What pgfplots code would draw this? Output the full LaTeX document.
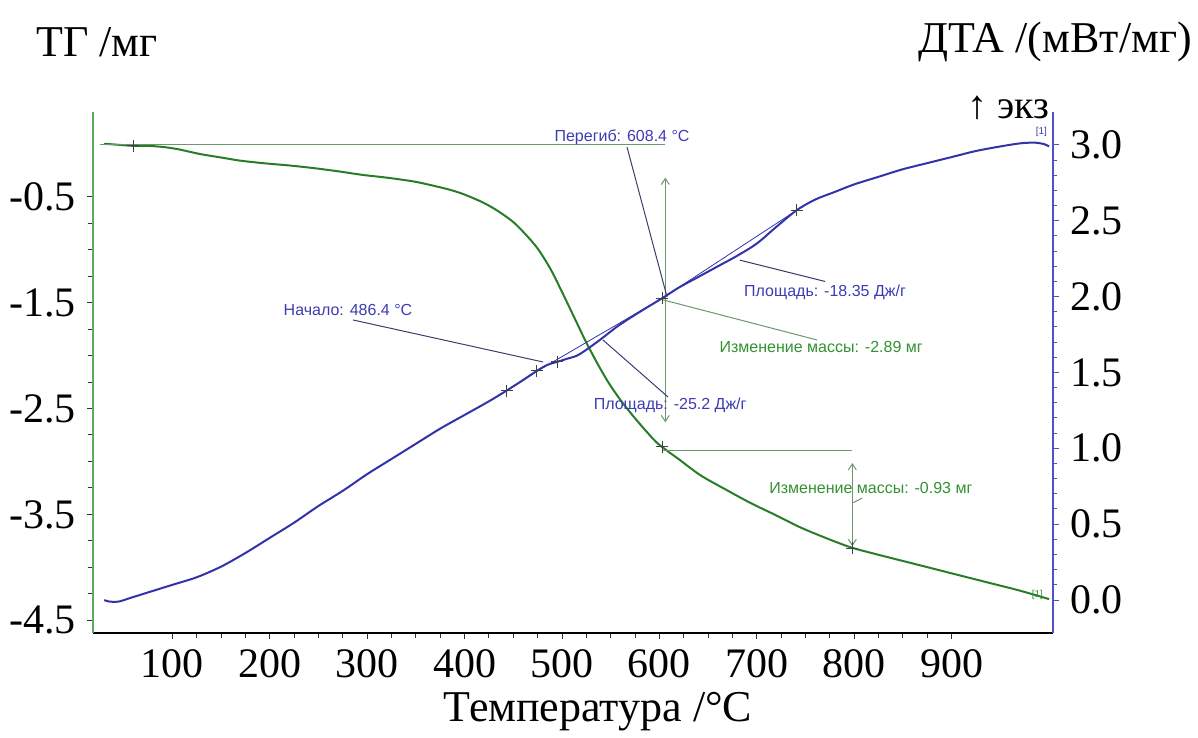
\documentclass[border=0pt]{standalone}
\usepackage{pgfplots}
\pgfplotsset{compat=1.18}
\usepackage{pgfplotstable}
\usepackage{fontspec}
\setmainfont{Liberation Serif}
\newfontfamily\arial{Liberation Sans}
\usetikzlibrary{arrows.meta}
\definecolor{tgc}{RGB}{40,125,40}
\definecolor{dtac}{RGB}{50,50,170}
\definecolor{tgax}{RGB}{90,170,90}
\definecolor{dtaax}{RGB}{80,80,200}
\definecolor{tgann}{RGB}{50,145,50}
\definecolor{dtann}{RGB}{60,60,180}
\definecolor{lead}{RGB}{60,60,110}
\definecolor{tgline}{RGB}{110,150,110}

\pgfplotstableread{
T tg
30 0.00
45 -0.01
60 -0.02
75 -0.02
90 -0.03
105 -0.05
115 -0.07
130 -0.10
150 -0.13
170 -0.16
195 -0.185
220 -0.205
245 -0.23
270 -0.26
296 -0.295
320 -0.32
347 -0.355
365 -0.39
385 -0.435
400 -0.48
420 -0.56
435 -0.64
450 -0.74
462 -0.85
475 -0.99
488 -1.18
500 -1.40
512 -1.63
524 -1.86
536 -2.07
548 -2.26
560 -2.42
572 -2.56
585 -2.70
597 -2.82
608 -2.90
620 -2.98
642 -3.13
665 -3.25
693 -3.39
720 -3.51
744 -3.62
770 -3.72
796 -3.81
820 -3.87
850 -3.94
880 -4.01
910 -4.08
940 -4.15
970 -4.22
1000 -4.30
}\tgdata

\pgfplotstableread{
T dta
30 0.00
35 -0.01
45 -0.01
60 0.02
80 0.06
100 0.10
125 0.15
150 0.22
175 0.31
200 0.41
225 0.51
250 0.62
275 0.72
300 0.83
325 0.93
350 1.03
375 1.13
400 1.22
425 1.31
443 1.38
460 1.45
474 1.51
485 1.55
495 1.57
505 1.59
515 1.61
525 1.65
540 1.72
556 1.80
570 1.86
585 1.92
603 1.99
620 2.06
640 2.13
660 2.20
680 2.27
700 2.35
720 2.46
741 2.57
760 2.64
780 2.69
800 2.74
825 2.79
850 2.84
875 2.88
900 2.92
925 2.96
950 2.99
970 3.01
985 3.015
995 3.005
1000 2.99
}\dtadata

\begin{document}
\begin{tikzpicture}
\path[use as bounding box] (-46.5pt,-52.5pt) rectangle (552.5pt,316.5pt);
% TG axis
\begin{axis}[
  at={(0pt,0pt)}, anchor=south west, scale only axis,
  width=480pt, height=260.5pt,
  xmin=18.5, xmax=1004, ymin=-4.62, ymax=0.30,
  axis x line*=bottom, axis y line*=left,
  axis line style={-},
  x axis line style={black, line width=0.6pt},
  y axis line style={tgax, line width=0.6pt},
  xtick={100,200,...,900},
  xticklabels={100,200,300,400,500,600,700,800,900},
  minor x tick num=3,
  ytick={-4.5,-3.5,-2.5,-1.5,-0.5},
  yticklabels={-4.5,-3.5,-2.5,-1.5,-0.5},
  minor y tick num=3,
  tick align=outside,
  major tick length=3pt, minor tick length=2.5pt,
  every tick/.style={black!80, line width=0.5pt},
  ticklabel style={font=\fontsize{21}{25}\selectfont},
  xticklabel style={yshift=-2pt},
  yticklabel style={xshift=-2pt},
  clip=false,
]
\addplot[tgc, line width=1pt, smooth] table[x=T, y=tg] {\tgdata};
% annotations TG
\draw[tgline, line width=0.5pt] (axis cs:26,-0.01) -- (axis cs:606,-0.01);
\draw[tgline, line width=0.5pt, {Straight Barb[length=3pt,width=4pt]}-{Straight Barb[length=3pt,width=4pt]}] (axis cs:606,-0.32) -- (axis cs:606,-2.63);
\draw[tgline, line width=0.5pt] (axis cs:603,-2.90) -- (axis cs:798,-2.90);
\draw[tgline, line width=0.5pt, {Straight Barb[length=3pt,width=4pt]}-{Straight Barb[length=3pt,width=4pt]}] (axis cs:798,-3.015) -- (axis cs:798,-3.80);
\draw[tgline, line width=0.5pt] (axis cs:603.7,-1.474) -- (axis cs:761.8,-1.853);
\node[tgann, font=\arial\fontsize{8}{9.6}\selectfont] at (axis cs:766,-1.919) {Изменение массы: -2.89 мг};
\node[tgann, font=\arial\fontsize{8}{9.6}\selectfont] at (axis cs:817,-3.25) {Изменение массы: -0.93 мг};
\draw[tgline, line width=0.5pt] (axis cs:808,-3.346) -- (axis cs:798.8,-3.39);
\node[tgann, font=\arial\fontsize{5}{6}\selectfont] at (axis cs:988,-4.26) {[1]};
\addplot[only marks, mark=+, mark size=3pt, black!75, line width=0.5pt] coordinates {(60,-0.02) (603,-2.86) (798,-3.82)};
\end{axis}
% DTA axis
\begin{axis}[
  at={(0pt,0pt)}, anchor=south west, scale only axis,
  width=480pt, height=260.5pt,
  xmin=18.5, xmax=1004, ymin=-0.2175, ymax=3.217,
  axis x line=none, axis y line*=right,
  axis line style={-},
  y axis line style={dtaax, line width=0.6pt},
  ytick={0,0.5,1,1.5,2,2.5,3},
  yticklabels={0.0,0.5,1.0,1.5,2.0,2.5,3.0},
  minor y tick num=4,
  tick align=outside,
  major tick length=3pt, minor tick length=2pt,
  every tick/.style={dtaax, line width=0.5pt},
  ticklabel style={font=\fontsize{21}{25}\selectfont},
  yticklabel style={xshift=2pt},
  clip=false,
]
\addplot[dtac, line width=1pt, smooth] table[x=T, y=dta] {\dtadata};
\addplot[dtac, line width=0.4pt] coordinates {(443,1.38) (480,1.53) (603,1.99)};
\addplot[dtac, line width=0.4pt] coordinates {(603,1.99) (741,2.57)};
\addplot[only marks, mark=+, mark size=3pt, black!75, line width=0.5pt] coordinates {(443,1.38) (474,1.51) (495,1.57) (603,1.99) (741,2.57)};
\node[dtann, font=\arial\fontsize{8}{9.6}\selectfont] at (axis cs:561.6,3.05) {Перегиб: 608.4 °C};
\draw[lead, line width=0.5pt] (axis cs:566.7,2.986) -- (axis cs:607.8,1.997);
\node[dtann, font=\arial\fontsize{8}{9.6}\selectfont] at (axis cs:280.3,1.91) {Начало: 486.4 °C};
\draw[lead, line width=0.5pt] (axis cs:285.4,1.846) -- (axis cs:480.5,1.569);
\node[dtann, font=\arial\fontsize{8}{9.6}\selectfont] at (axis cs:611,1.285) {Площадь: -25.2 Дж/г};
\draw[lead, line width=0.5pt] (axis cs:542,1.714) -- (axis cs:608.8,1.338);
\node[dtann, font=\arial\fontsize{8}{9.6}\selectfont] at (axis cs:770,2.03) {Площадь: -18.35 Дж/г};
\draw[lead, line width=0.5pt] (axis cs:682.7,2.24) -- (axis cs:770,2.10);
\node[dtann, font=\arial\fontsize{5}{6}\selectfont] at (axis cs:992,3.085) {[1]};
\end{axis}
\node[font=\fontsize{22}{26}\selectfont] at (2pt,295.5pt) {ТГ /мг};
\node[font=\fontsize{22}{26}\selectfont] at (481pt,295.5pt) {ДТА /(мВт/мг)};
\node[font=\fontsize{22}{26}\selectfont] at (252.5pt,-39.5pt) {Температура /°C};
\node[font=\fontsize{20}{24}\selectfont] at (457.5pt,262.5pt) {↑ экз};
\end{tikzpicture}
\end{document}
